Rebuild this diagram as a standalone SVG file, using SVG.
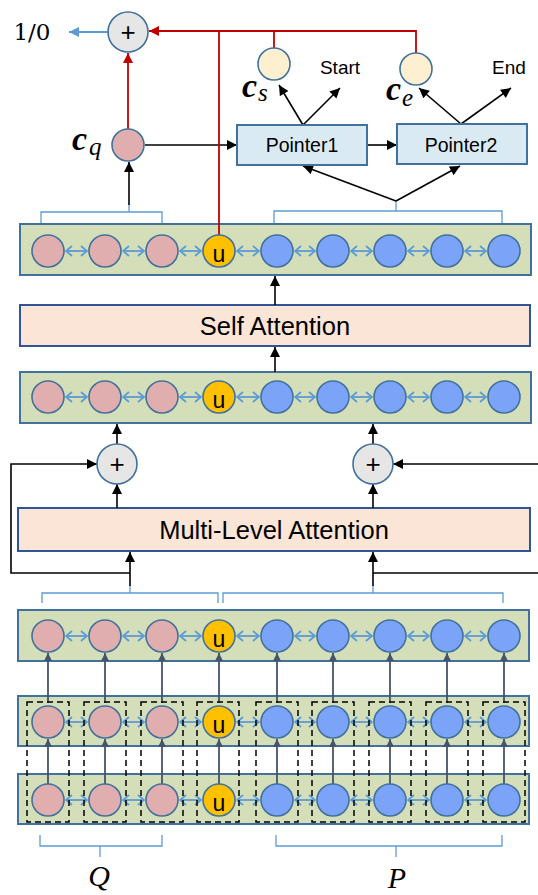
<svg xmlns="http://www.w3.org/2000/svg" width="538" height="895" viewBox="0 0 538 895">
<defs>
<style>
.row{fill:#D4DFBA;stroke:#41719C;stroke-width:2}
.att{fill:#FBE5D6;stroke:#2F5597;stroke-width:2}
.ptr{fill:#DAEAF2;stroke:#41719C;stroke-width:2}
.p{fill:#E0AEAE;stroke:#41719C;stroke-width:1.6}
.b{fill:#7BA4F8;stroke:#41719C;stroke-width:1.6}
.u{fill:#FFC000;stroke:#41719C;stroke-width:1.6}
.y{fill:#FCF0D0;stroke:#41719C;stroke-width:1.6}
.plus{fill:#E7E6E6;stroke:#41719C;stroke-width:1.6}
.sans{font-family:"Liberation Sans",Arial,sans-serif;fill:#000}
.ser{font-family:"Liberation Serif","Times New Roman",serif;fill:#000}
.blk{stroke:#000;stroke-width:1.6;fill:none}
.red{stroke:#C00000;stroke-width:1.8;fill:none}
.brk{stroke:#5B9BD5;stroke-width:1.3;fill:none}
.dbl line{stroke:#5B9BD5;stroke-width:1.8;marker-start:url(#ch);marker-end:url(#ch)}
.vs{stroke:#44546A;stroke-width:1.8;fill:none;marker-end:url(#as)}
.dash{fill:none;stroke:#000;stroke-width:1.5;stroke-dasharray:6,4}
</style>
<marker id="ab" viewBox="0 0 10 10" refX="10" refY="5" markerWidth="11" markerHeight="10" orient="auto" markerUnits="userSpaceOnUse"><path d="M0,0 L10,5 L0,10 z" fill="#000"/></marker>
<marker id="ar" viewBox="0 0 10 10" refX="10" refY="5" markerWidth="11" markerHeight="10" orient="auto" markerUnits="userSpaceOnUse"><path d="M0,0 L10,5 L0,10 z" fill="#C00000"/></marker>
<marker id="abl" viewBox="0 0 10 10" refX="10" refY="5" markerWidth="11" markerHeight="10" orient="auto" markerUnits="userSpaceOnUse"><path d="M0,0 L10,5 L0,10 z" fill="#5B9BD5"/></marker>
<marker id="as" viewBox="0 0 10 10" refX="10" refY="5" markerWidth="9" markerHeight="8" orient="auto" markerUnits="userSpaceOnUse"><path d="M0,0 L10,5 L0,10 z" fill="#44546A"/></marker>
<marker id="ch" viewBox="0 0 8 12" refX="7" refY="6" markerWidth="8" markerHeight="12" orient="auto-start-reverse" markerUnits="userSpaceOnUse"><path d="M1,1 L7,6 L1,11" fill="none" stroke="#5B9BD5" stroke-width="1.8"/></marker>
</defs>

<!-- row boxes -->
<g id="row1"><rect class="row" x="20" y="224" width="511" height="51"/></g>
<g id="self-attention"><rect class="att" x="20" y="305" width="510" height="41"/><text class="sans" x="275" y="335" font-size="25.5" text-anchor="middle">Self Attention</text></g>
<g id="row2"><rect class="row" x="20" y="372" width="511" height="51"/></g>
<g id="multi-level-attention"><rect class="att" x="18" y="508" width="512" height="43"/><text class="sans" x="274" y="539" font-size="25.5" text-anchor="middle">Multi-Level Attention</text></g>
<g id="row3"><rect class="row" x="18" y="610" width="511" height="51"/></g>
<g id="row4"><rect class="row" x="18" y="696" width="511" height="50"/></g>
<g id="row5"><rect class="row" x="18" y="774" width="511" height="50"/></g>

<!-- connectors -->
<g id="connectors">
 <g class="dbl">
  <line x1="66" y1="251" x2="87" y2="251"/><line x1="123" y1="251" x2="144" y2="251"/><line x1="180" y1="251" x2="201" y2="251"/><line x1="237" y1="251" x2="259" y2="251"/><line x1="295" y1="251" x2="315" y2="251"/><line x1="351" y1="251" x2="372" y2="251"/><line x1="408" y1="251" x2="429" y2="251"/><line x1="465" y1="251" x2="486" y2="251"/>
  <line x1="66" y1="397" x2="87" y2="397"/><line x1="123" y1="397" x2="144" y2="397"/><line x1="180" y1="397" x2="201" y2="397"/><line x1="237" y1="397" x2="259" y2="397"/><line x1="295" y1="397" x2="315" y2="397"/><line x1="351" y1="397" x2="372" y2="397"/><line x1="408" y1="397" x2="429" y2="397"/><line x1="465" y1="397" x2="486" y2="397"/>
  <line x1="66" y1="636" x2="87" y2="636"/><line x1="123" y1="636" x2="144" y2="636"/><line x1="180" y1="636" x2="201" y2="636"/><line x1="237" y1="636" x2="259" y2="636"/><line x1="295" y1="636" x2="315" y2="636"/><line x1="351" y1="636" x2="372" y2="636"/><line x1="408" y1="636" x2="429" y2="636"/><line x1="465" y1="636" x2="486" y2="636"/>
  <line x1="66" y1="722" x2="87" y2="722"/><line x1="123" y1="722" x2="144" y2="722"/><line x1="180" y1="722" x2="201" y2="722"/><line x1="237" y1="722" x2="259" y2="722"/><line x1="295" y1="722" x2="315" y2="722"/><line x1="351" y1="722" x2="372" y2="722"/><line x1="408" y1="722" x2="429" y2="722"/><line x1="465" y1="722" x2="486" y2="722"/>
  <line x1="66" y1="800" x2="87" y2="800"/><line x1="123" y1="800" x2="144" y2="800"/><line x1="180" y1="800" x2="201" y2="800"/><line x1="237" y1="800" x2="259" y2="800"/><line x1="295" y1="800" x2="315" y2="800"/><line x1="351" y1="800" x2="372" y2="800"/><line x1="408" y1="800" x2="429" y2="800"/><line x1="465" y1="800" x2="486" y2="800"/>
 </g>
 <g>
  <path class="vs" d="M48,784V739"/><path class="vs" d="M105,784V739"/><path class="vs" d="M162,784V739"/><path class="vs" d="M219,784V739"/><path class="vs" d="M277,784V739"/><path class="vs" d="M333,784V739"/><path class="vs" d="M390,784V739"/><path class="vs" d="M447,784V739"/><path class="vs" d="M504,784V739"/>
  <path class="vs" d="M48,703V653"/><path class="vs" d="M105,703V653"/><path class="vs" d="M162,703V653"/><path class="vs" d="M219,703V653"/><path class="vs" d="M277,703V653"/><path class="vs" d="M333,703V653"/><path class="vs" d="M390,703V653"/><path class="vs" d="M447,703V653"/><path class="vs" d="M504,703V653"/>
 </g>
 <path class="brk" d="M41,223V212H162V223M129,212V205"/>
 <path class="brk" d="M274,223V211H502V223M396,211V201"/>
 <path class="brk" d="M42,603V593H218V603M130,593V586"/>
 <path class="brk" d="M223,603V593H503V603M373,593V586"/>
 <path class="brk" d="M40,835V846H162V835M100,846V857"/>
 <path class="brk" d="M276,835V846H502V835M396,846V857"/>
 <path class="blk" marker-end="url(#ab)" d="M130,586V552"/>
 <path class="blk" marker-end="url(#ab)" d="M130,573H11V464H97"/>
 <path class="blk" marker-end="url(#ab)" d="M373,586V552"/>
 <path class="blk" d="M373,573H538"/>
 <path class="blk" marker-end="url(#ab)" d="M538,464H393"/>
 <path class="blk" marker-end="url(#ab)" d="M117,508V484"/>
 <path class="blk" marker-end="url(#ab)" d="M373,508V484"/>
 <path class="blk" marker-end="url(#ab)" d="M117,444V424"/>
 <path class="blk" marker-end="url(#ab)" d="M373,444V424"/>
 <path class="blk" marker-end="url(#ab)" d="M275,372V347"/>
 <path class="blk" marker-end="url(#ab)" d="M275,305V276"/>
 <path class="blk" marker-end="url(#ab)" d="M129,205V162"/>
 <path class="blk" marker-end="url(#ab)" d="M396,201L303,166"/>
 <path class="blk" marker-end="url(#ab)" d="M396,201L460,166"/>
 <path class="blk" marker-end="url(#ab)" d="M145,145H237"/>
 <path class="blk" marker-end="url(#ab)" d="M367,145H397"/>
 <path class="blk" marker-end="url(#ab)" d="M303,125L279,85"/>
 <path class="blk" marker-end="url(#ab)" d="M303,125L340,88"/>
 <path class="blk" marker-end="url(#ab)" d="M461,124L419,88"/>
 <path class="blk" marker-end="url(#ab)" d="M461,124L511,88"/>
 <path class="red" d="M219,235V31"/>
 <path class="red" marker-end="url(#ar)" d="M416,53V31H149"/>
 <path class="red" d="M274,31V48"/>
 <path class="red" marker-end="url(#ar)" d="M128,129V53"/>
 <path stroke="#5B9BD5" stroke-width="1.8" fill="none" marker-end="url(#abl)" d="M108,32H69"/>
</g>

<g id="dashed-groups">
 <rect class="dash" x="27" y="702" width="42" height="120"/>
 <rect class="dash" x="84" y="702" width="42" height="120"/>
 <rect class="dash" x="141" y="702" width="42" height="120"/>
 <rect class="dash" x="197" y="702" width="42" height="120"/>
 <rect class="dash" x="256" y="702" width="42" height="120"/>
 <rect class="dash" x="312" y="702" width="42" height="120"/>
 <rect class="dash" x="369" y="702" width="42" height="120"/>
 <rect class="dash" x="426" y="702" width="42" height="120"/>
 <rect class="dash" x="483" y="702" width="42" height="120"/>
</g>

<g id="row1-nodes">
 <circle class="p" cx="48" cy="251" r="16"/><circle class="p" cx="105" cy="251" r="16"/><circle class="p" cx="162" cy="251" r="16"/>
 <circle class="u" cx="219" cy="251" r="16"/><text class="sans" x="219" y="262" font-size="23" text-anchor="middle">u</text>
 <circle class="b" cx="277" cy="251" r="16"/><circle class="b" cx="333" cy="251" r="16"/><circle class="b" cx="390" cy="251" r="16"/><circle class="b" cx="447" cy="251" r="16"/><circle class="b" cx="504" cy="251" r="16"/>
</g>
<g id="row2-nodes">
 <circle class="p" cx="48" cy="397" r="16"/><circle class="p" cx="105" cy="397" r="16"/><circle class="p" cx="162" cy="397" r="16"/>
 <circle class="u" cx="219" cy="397" r="16"/><text class="sans" x="219" y="408" font-size="23" text-anchor="middle">u</text>
 <circle class="b" cx="277" cy="397" r="16"/><circle class="b" cx="333" cy="397" r="16"/><circle class="b" cx="390" cy="397" r="16"/><circle class="b" cx="447" cy="397" r="16"/><circle class="b" cx="504" cy="397" r="16"/>
</g>
<g id="row3-nodes">
 <circle class="p" cx="48" cy="636" r="16"/><circle class="p" cx="105" cy="636" r="16"/><circle class="p" cx="162" cy="636" r="16"/>
 <circle class="u" cx="219" cy="636" r="16"/><text class="sans" x="219" y="647" font-size="23" text-anchor="middle">u</text>
 <circle class="b" cx="277" cy="636" r="16"/><circle class="b" cx="333" cy="636" r="16"/><circle class="b" cx="390" cy="636" r="16"/><circle class="b" cx="447" cy="636" r="16"/><circle class="b" cx="504" cy="636" r="16"/>
</g>
<g id="row4-nodes">
 <circle class="p" cx="48" cy="722" r="16"/><circle class="p" cx="105" cy="722" r="16"/><circle class="p" cx="162" cy="722" r="16"/>
 <circle class="u" cx="219" cy="722" r="16"/><text class="sans" x="219" y="733" font-size="23" text-anchor="middle">u</text>
 <circle class="b" cx="277" cy="722" r="16"/><circle class="b" cx="333" cy="722" r="16"/><circle class="b" cx="390" cy="722" r="16"/><circle class="b" cx="447" cy="722" r="16"/><circle class="b" cx="504" cy="722" r="16"/>
</g>
<g id="row5-nodes">
 <circle class="p" cx="48" cy="800" r="16"/><circle class="p" cx="105" cy="800" r="16"/><circle class="p" cx="162" cy="800" r="16"/>
 <circle class="u" cx="219" cy="800" r="16"/><text class="sans" x="219" y="811" font-size="23" text-anchor="middle">u</text>
 <circle class="b" cx="277" cy="800" r="16"/><circle class="b" cx="333" cy="800" r="16"/><circle class="b" cx="390" cy="800" r="16"/><circle class="b" cx="447" cy="800" r="16"/><circle class="b" cx="504" cy="800" r="16"/>
</g>

<g id="plus-left"><circle class="plus" cx="117" cy="464" r="20"/><text class="sans" x="117" y="473" font-size="26" text-anchor="middle">+</text></g>
<g id="plus-right"><circle class="plus" cx="373" cy="464" r="20"/><text class="sans" x="373" y="473" font-size="26" text-anchor="middle">+</text></g>
<g id="plus-top"><circle class="plus" cx="128" cy="32" r="20"/><text class="sans" x="128" y="41" font-size="26" text-anchor="middle">+</text></g>

<g id="cq"><circle class="p" cx="128" cy="145" r="16"/><text class="ser" x="72" y="150" font-size="34" font-weight="bold" font-style="italic">c</text><text class="ser" x="89" y="155" font-size="25" font-style="italic">q</text></g>
<g id="cs"><circle class="y" cx="274" cy="64" r="16"/><text class="ser" x="242" y="97" font-size="34" font-weight="bold" font-style="italic">c</text><text class="ser" x="258" y="101" font-size="25" font-style="italic">s</text></g>
<g id="ce"><circle class="y" cx="416" cy="69" r="16"/><text class="ser" x="386" y="100" font-size="34" font-weight="bold" font-style="italic">c</text><text class="ser" x="402" y="106" font-size="25" font-style="italic">e</text></g>

<g id="pointer1"><rect class="ptr" x="237" y="125" width="130" height="40"/><text class="sans" x="302" y="152" font-size="19.5" text-anchor="middle">Pointer1</text></g>
<g id="pointer2"><rect class="ptr" x="397" y="124" width="130" height="40"/><text class="sans" x="461" y="152" font-size="19.5" text-anchor="middle">Pointer2</text></g>

<g id="labels">
 <text class="sans" x="340" y="74" font-size="19" text-anchor="middle">Start</text>
 <text class="sans" x="509" y="74" font-size="19" text-anchor="middle">End</text>
 <text font-family="DejaVu Serif, serif" x="32" y="40" font-size="23" text-anchor="middle">1/0</text>
 <text class="ser" x="99" y="886" font-size="30" font-style="italic" text-anchor="middle">Q</text>
 <text class="ser" x="397" y="888" font-size="30" font-style="italic" text-anchor="middle">P</text>
</g>
</svg>
